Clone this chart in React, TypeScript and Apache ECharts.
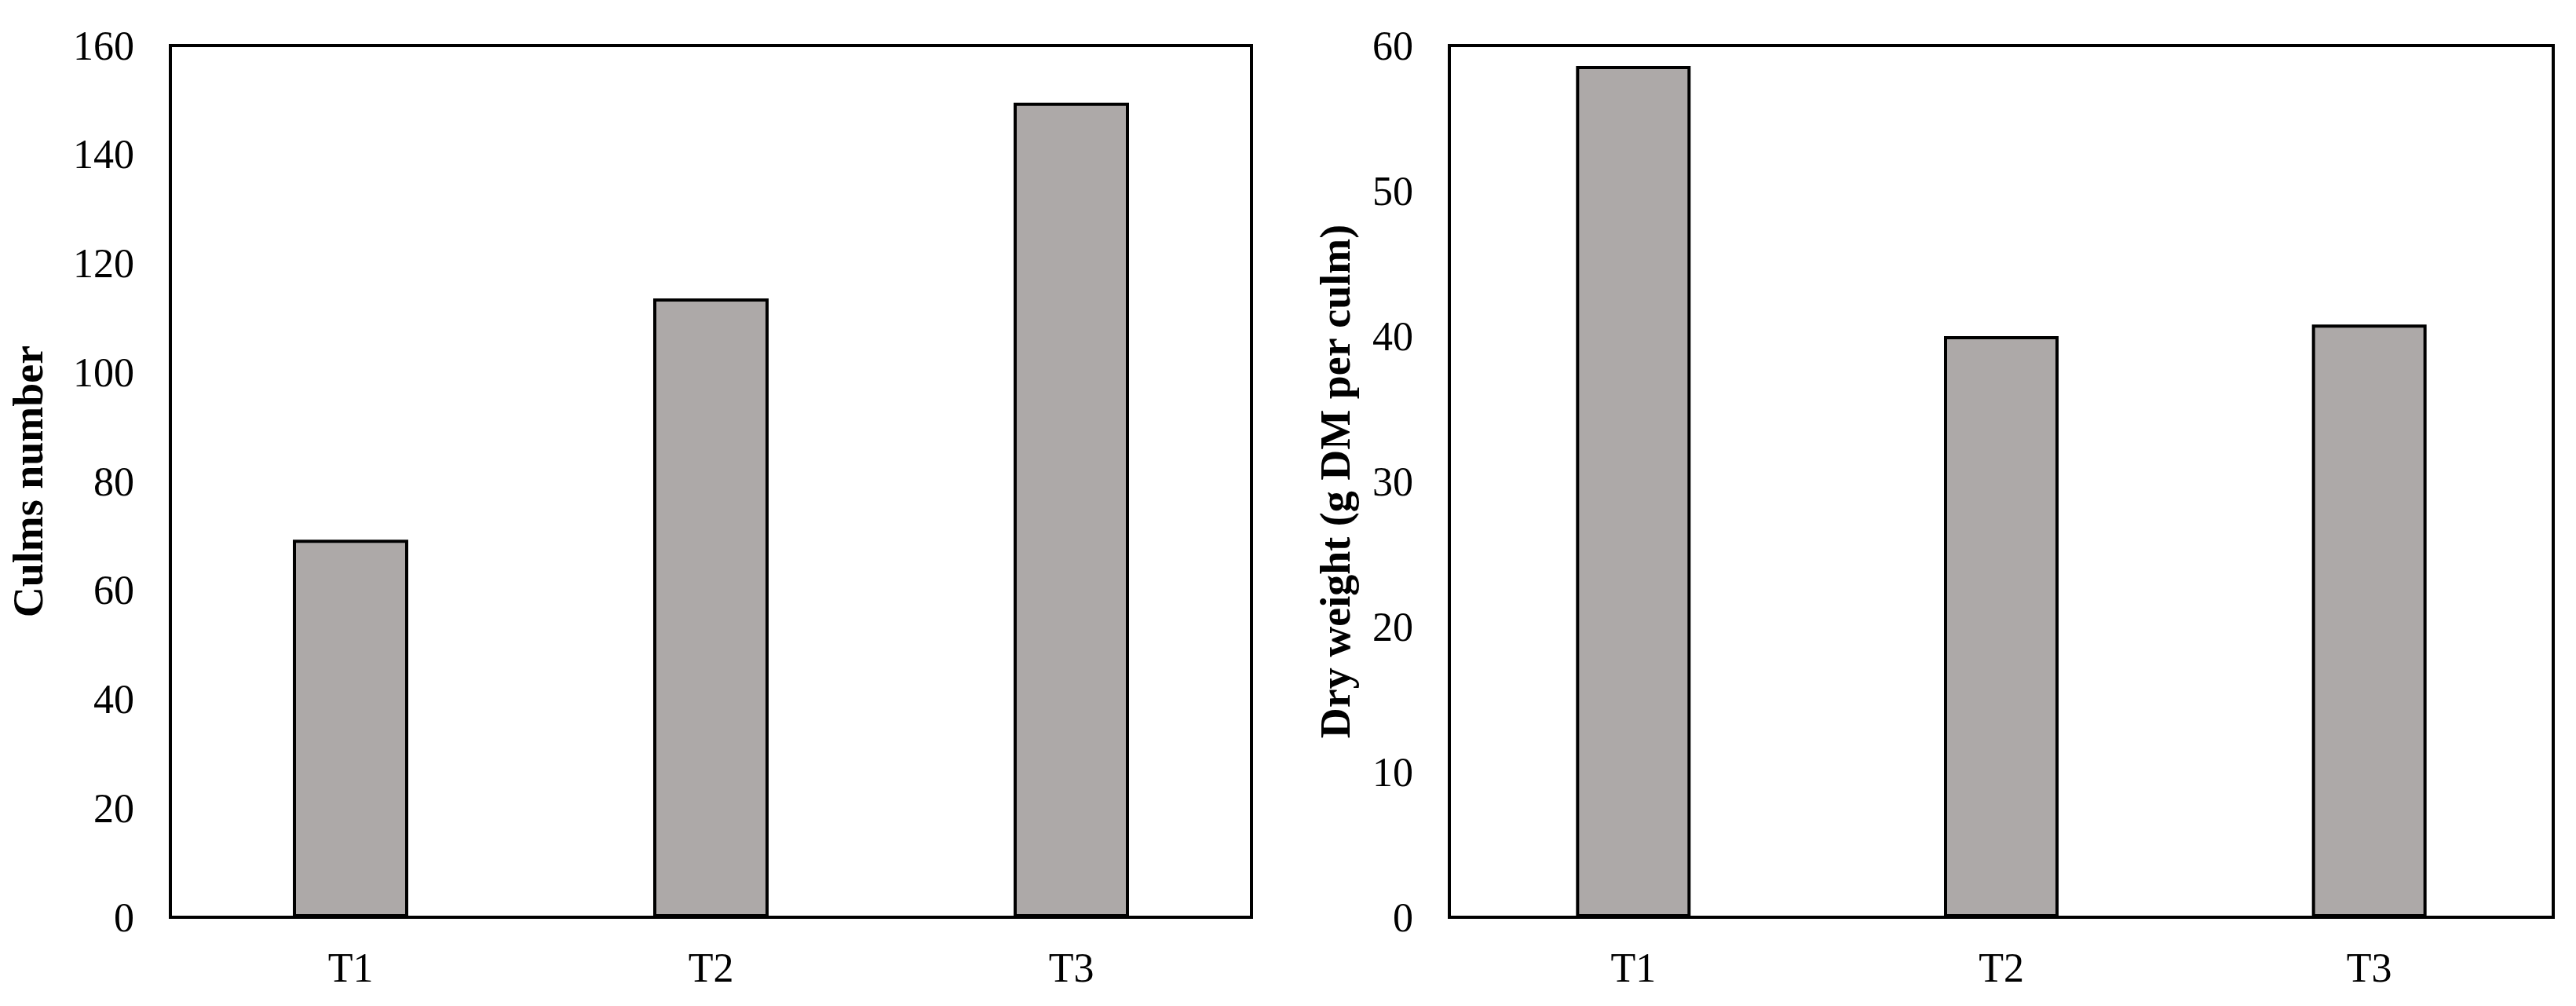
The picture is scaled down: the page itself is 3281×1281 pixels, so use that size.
import React, { useEffect, useRef } from "react";
import * as echarts from "echarts";

const categories = ["T1", "T2", "T3"];
const culmsNumber = [69.3, 113.6, 149.5];
const dryWeight = [58.6, 40.0, 40.8];
const culmsTitle = "Culms number";
const dryTitle = "Dry weight (g DM per culm)";

const FONT = "'Liberation Serif', 'Times New Roman', serif";

export default function App() {
  const ref = useRef<HTMLDivElement>(null);
  useEffect(() => {
    const chart = echarts.init(ref.current!, null, { renderer: "svg" });
    const axisLabelStyle = { color: "#000", fontFamily: FONT, fontSize: 52 };
    const makeX = (gridIndex: number) => ({
      type: "category",
      gridIndex,
      data: categories,
      axisLine: { show: true, lineStyle: { color: "#000", width: 4 } },
      axisTick: { show: false },
      axisLabel: { ...axisLabelStyle, margin: 38 },
      splitLine: { show: false },
    });
    const makeY = (gridIndex: number, max: number, interval: number, name: string, gap: number) => ({
      type: "value",
      gridIndex,
      min: 0,
      max,
      interval,
      name,
      nameLocation: "middle",
      nameRotate: 90,
      nameGap: gap,
      nameTextStyle: { color: "#000", fontFamily: FONT, fontSize: 54, fontWeight: "bold" },
      axisLine: { show: true, lineStyle: { color: "#000", width: 4 } },
      axisTick: { show: false },
      axisLabel: { ...axisLabelStyle, margin: 46 },
      splitLine: { show: false },
    });
    const barStyle = { color: "#ADA9A8", borderColor: "#000", borderWidth: 4 };
    chart.setOption({
      animation: false,
      backgroundColor: "#fff",
      grid: [
        { left: 217, top: 58, width: 1377, height: 1110, show: true, borderColor: "#000", borderWidth: 4, containLabel: false },
        { left: 1846, top: 58, width: 1406, height: 1110, show: true, borderColor: "#000", borderWidth: 4, containLabel: false },
      ],
      xAxis: [makeX(0), makeX(1)],
      yAxis: [makeY(0, 160, 20, culmsTitle, 154), makeY(1, 60, 10, dryTitle, 118)],
      series: [
        { type: "bar", xAxisIndex: 0, yAxisIndex: 0, data: culmsNumber, barWidth: 147, itemStyle: barStyle },
        { type: "bar", xAxisIndex: 1, yAxisIndex: 1, data: dryWeight, barWidth: 146, itemStyle: barStyle },
      ],
    });
    return () => chart.dispose();
  }, []);
  return (
    <div
      ref={ref}
      style={{ position: "absolute", left: 0, top: 0, width: 3281, height: 1281, background: "#fff" }}
    />
  );
}
